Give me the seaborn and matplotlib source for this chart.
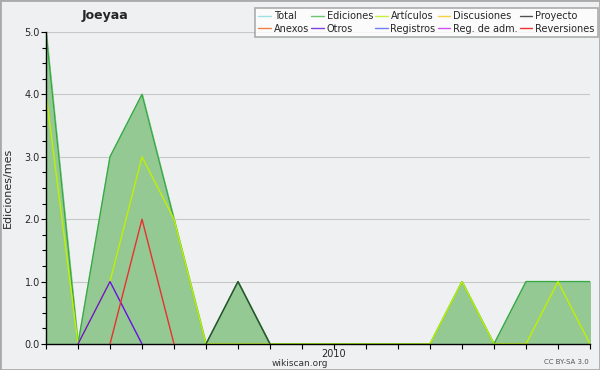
import matplotlib
matplotlib.use("Agg")
import matplotlib.pyplot as plt
import pandas as pd
import numpy as np
import seaborn as sns
from matplotlib.ticker import MultipleLocator, FormatStrFormatter

# monthly edits, Apr 2009 .. Sep 2010
months = pd.date_range("2009-04-01", "2010-09-01", freq="MS")
total       = [5, 0, 3, 4, 2, 0, 1, 0, 0, 0, 0, 0, 0, 1, 0, 1, 1, 1]
ediciones   = [5, 0, 3, 4, 2, 0, 1, 0, 0, 0, 0, 0, 0, 1, 0, 1, 1, 1]
articulos   = [4, 0, 1, 3, 2, 0, 0, 0, 0, 0, 0, 0, 0, 1, 0, 0, 1, 0]
otros       = [0, 0, 1, 0, 0, 0, 0, 0, 0, 0, 0, 0, 0, 0, 0, 0, 0, 0]
reversiones = [0, 0, 0, 2, 0, 0, 0, 0, 0, 0, 0, 0, 0, 0, 0, 0, 0, 0]
proyecto    = [0, 0, 0, 0, 0, 0, 1, 0, 0, 0, 0, 0, 0, 0, 0, 0, 0, 0]

legend_names = ["Total", "Ediciones", "Artículos", "Discusiones", "Proyecto",
                "Anexos", "Otros", "Registros", "Reg. de adm.", "Reversiones"]
legend_colors = ["#9fe0e0", "#6cc46c", "#c8f040", "#f8d040", "#505050",
                 "#f08040", "#8040e0", "#7080f0", "#d050f0", "#f03030"]

df = pd.DataFrame({"mes": np.arange(len(months)), "Total": total,
                   "Ediciones": ediciones, "Artículos": articulos,
                   "Otros": otros, "Reversiones": reversiones,
                   "Proyecto": proyecto})

sns.set_style("white")
plt.rcParams["font.family"] = ["DejaVu Sans"]

bg = "#eff0f2"
fig = plt.figure(figsize=(6, 3.7), dpi=100, facecolor=bg)
ax = fig.add_axes([46 / 600, 26 / 370, 544 / 600, 312 / 370])
ax.set_facecolor(bg)

ax.fill_between(df["mes"], df["Ediciones"], color="#94c994", zorder=1)
line_style = {"Total": "#9fe0e0", "Ediciones": "#3aa83a", "Otros": "#6a10e0",
              "Reversiones": "#e83030", "Artículos": "#c0f000",
              "Proyecto": "#2f4f2f"}
for name, col in line_style.items():
    vals = df[name]
    if name in ("Otros", "Reversiones", "Proyecto"):
        # only draw around the non-zero months, like the reference
        nz = np.where(vals.values > 0)[0]
        sub = df.iloc[max(nz.min() - 1, 0):nz.max() + 2]
        sns.lineplot(data=sub, x="mes", y=name, color=col, lw=1, ax=ax, zorder=3)
    else:
        sns.lineplot(data=df, x="mes", y=name, color=col, lw=1, ax=ax, zorder=2)

ax.set_xlim(0, len(months) - 1)
ax.set_ylim(0, 5)
ax.yaxis.set_major_locator(MultipleLocator(1))
ax.yaxis.set_minor_locator(MultipleLocator(0.25))
ax.yaxis.set_major_formatter(FormatStrFormatter("%.1f"))
ax.set_xticks(df["mes"])
ax.set_xticklabels(["2010" if m.month == 1 else "" for m in months])
ax.grid(axis="y", color="#c8c8c8", lw=0.8, zorder=0)
ax.set_axisbelow(True)
for s in ["top", "right"]:
    ax.spines[s].set_visible(False)
for s in ["left", "bottom"]:
    ax.spines[s].set_color("black")
    ax.spines[s].set_linewidth(1)
ax.tick_params(axis="both", which="both", direction="out", labelsize=7,
               length=3.5, width=0.8, color="black", pad=1,
               bottom=True, left=True)
ax.tick_params(axis="y", which="minor", length=3)
ax.tick_params(axis="x", pad=0)
ax.set_xlabel("")
ax.set_ylabel("Ediciones/mes", fontsize=8, labelpad=8)

fig.text(105 / 600, 1 - 15 / 370, "Joeyaa", fontsize=9, fontweight="bold",
         ha="center", va="center")
fig.text(300 / 600, 1 - 363 / 370, "wikiscan.org", fontsize=6.5,
         ha="center", va="center", color="#333333")
fig.text(589 / 600, 1 - 362 / 370, "CC BY-SA 3.0", fontsize=5,
         ha="right", va="center", color="#555555")

handles = [plt.Line2D([], [], color=c, lw=1) for c in legend_colors]
order = [0, 5, 1, 6, 2, 7, 3, 8, 4, 9]
leg = fig.legend([handles[i] for i in order], [legend_names[i] for i in order],
                 ncol=5, loc="upper right", bbox_to_anchor=(598 / 600, 1 - 8 / 370),
                 fontsize=7, frameon=True, fancybox=False, handlelength=1.3,
                 handletextpad=0.3, columnspacing=0.2, labelspacing=0.25,
                 borderpad=0.35, borderaxespad=0)
leg.get_frame().set_edgecolor("#999999")
leg.get_frame().set_linewidth(1.2)

fig.patches.append(plt.Rectangle((0, 0), 1, 1, transform=fig.transFigure,
                                 fill=False, edgecolor="#aaaaaa", lw=2))

fig.savefig("out.png", dpi=100, facecolor=bg)
